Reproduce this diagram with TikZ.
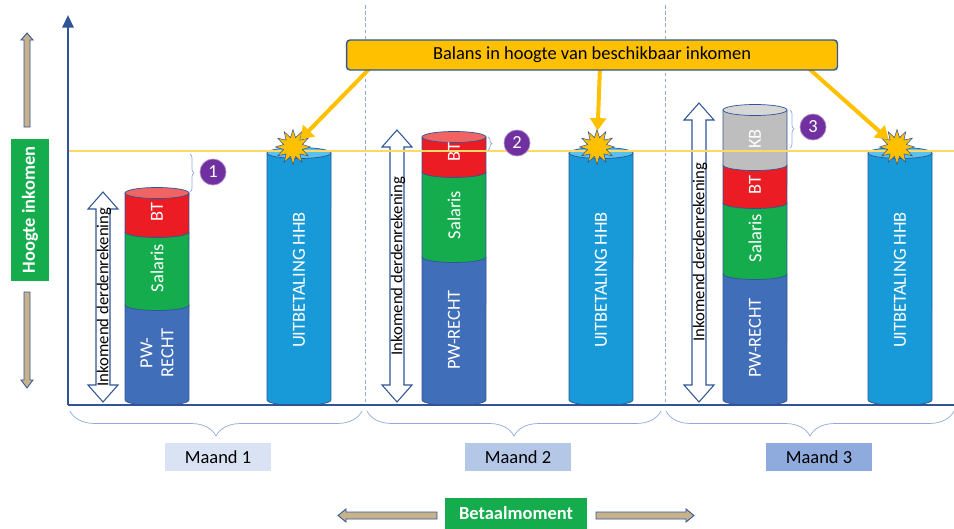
\documentclass[tikz,border=0pt]{standalone}
\usepackage{fontspec}
\setmainfont{Carlito}
\usetikzlibrary{positioning, arrows.meta, shapes.geometric, decorations.pathreplacing}
\definecolor{mynavy}{RGB}{47,85,151}
\definecolor{mypw}{RGB}{64,110,185}
\definecolor{mygreen}{RGB}{20,172,76}
\definecolor{myred}{RGB}{236,28,36}
\definecolor{myredtop}{RGB}{240,100,100}
\definecolor{mygrey}{RGB}{190,190,190}
\definecolor{mygreytop}{RGB}{215,215,215}
\definecolor{mycyan}{RGB}{24,154,216}
\definecolor{mycyantop}{RGB}{90,192,236}
\definecolor{mygold}{RGB}{255,192,0}
\definecolor{myline}{RGB}{255,217,102}
\definecolor{mypurple}{RGB}{112,48,160}
\definecolor{mybeige}{RGB}{200,178,140}
\definecolor{mymonthA}{RGB}{218,227,243}
\definecolor{mymonthB}{RGB}{180,199,231}
\definecolor{mymonthC}{RGB}{143,170,220}
\definecolor{mysep}{RGB}{143,170,220}

% cylinder part: centre x, top y, bottom y, fill
\newcommand{\cylpart}[4]{
  \filldraw[draw=mynavy, fill=#4, line width=0.4pt] (#1-32,#2) -- (#1-32,#3) arc[start angle=180, end angle=360, x radius=0.64cm, y radius=0.11cm] -- (#1+32,#2) -- cycle;
}
% cylinder lid: centre x, y, fill
\newcommand{\cyltop}[3]{
  \filldraw[draw=mynavy, fill=#3, line width=0.4pt] (#1,#2) ellipse[x radius=0.64cm, y radius=0.11cm];
}
% double arrow: centre x, top y, bottom y
\newcommand{\inkarrow}[3]{
  \draw[twoway] (#1,#2) -- ++(15,17) -- ++(-8,0) -- (#1+7,#3-17) -- ++(8,0) -- (#1,#3) -- ++(-15,-17) -- ++(8,0) -- (#1-7,#2+17) -- ++(-8,0) -- cycle;
}

\begin{document}
\begin{tikzpicture}[x=0.02cm, y=-0.02cm,
  every node/.style={font=\fontsize{10.5}{12}\selectfont},
  seglabel/.style={text=white, rotate=90, align=center},
  inklabel/.style={rotate=90, text=black, font=\fontsize{9.5}{11}\selectfont},
  monthbox/.style={minimum width=2.14cm, minimum height=0.56cm},
  greenbox/.style={fill=mygreen, text=white, font=\fontsize{10.5}{12}\selectfont\bfseries},
  numdot/.style={circle, fill=mypurple, draw=mypurple!60!white, text=white, minimum size=0.52cm, inner sep=0pt},
  smallbrace/.style={draw=mysep, decorate, decoration={brace, amplitude=0.08cm}},
  monthbrace/.style={draw=mysep, decorate, decoration={brace, mirror, amplitude=0.5cm}},
  goldarrow/.style={draw=mygold, line width=0.08cm, -{Triangle[length=0.25cm, width=0.32cm]}},
  burst/.style={star, star points=12, star point ratio=1.8, fill=mygold, draw=mynavy, line width=0.3pt, minimum size=0.7cm, inner sep=0pt},
  twoway/.style={draw=mynavy, fill=white, line width=0.6pt},
  beigearrow/.style={draw=mynavy, fill=mybeige, line width=0.5pt},
  axis/.style={draw=mynavy, line width=0.05cm}
]
\useasboundingbox (0,0) rectangle (954,528);

% month separators
\draw[mysep, dash pattern=on 2pt off 1.5pt, line width=0.5pt] (365,5) -- (365,405);
\draw[mysep, dash pattern=on 2pt off 1.5pt, line width=0.5pt] (665,5) -- (665,405);

% Maand 1
\cylpart{157}{305}{400}{mypw}
\cylpart{157}{232}{305}{mygreen}
\cylpart{157}{193}{232}{myred}
\cyltop{157}{193}{myredtop}
\node[seglabel] (pw1) at (157,353) {PW-\\RECHT};
\node[seglabel] (sal1) at (157,268) {Salaris};
\node[seglabel] (bt1) at (157,212) {BT};
\cylpart{299}{153}{400}{mycyan}
\cyltop{299}{153}{mycyantop}
\node[seglabel] (hhb1) at (299,280) {UITBETALING HHB};
\inkarrow{103}{192}{402}
\node[inklabel] (ink1) at (104,297) {Inkomend derdenrekening};

% Maand 2
\cylpart{454}{257}{400}{mypw}
\cylpart{454}{172}{257}{mygreen}
\cylpart{454}{137}{172}{myred}
\cyltop{454}{137}{myredtop}
\node[seglabel] (pw2) at (454,330) {PW-RECHT};
\node[seglabel] (sal2) at (454,215) {Salaris};
\node[seglabel] (bt2) at (454,152) {BT};
\cylpart{601}{153}{400}{mycyan}
\cyltop{601}{153}{mycyantop}
\node[seglabel] (hhb2) at (601,280) {UITBETALING HHB};
\inkarrow{397}{130}{402}
\node[inklabel] (ink2) at (398,266) {Inkomend derdenrekening};

% Maand 3
\cylpart{755}{274}{400}{mypw}
\cylpart{755}{203}{274}{mygreen}
\cylpart{755}{165}{203}{myred}
\cylpart{755}{110}{165}{mygrey}
\cyltop{755}{110}{mygreytop}
\node[seglabel] (pw3) at (755,338) {PW-RECHT};
\node[seglabel] (sal3) at (755,238) {Salaris};
\node[seglabel] (bt3) at (755,185) {BT};
\node[seglabel] (kb3) at (755,139) {KB};
\cylpart{900}{153}{400}{mycyan}
\cyltop{900}{153}{mycyantop}
\node[seglabel] (hhb3) at (900,280) {UITBETALING HHB};
\inkarrow{699}{103}{402}
\node[inklabel] (ink3) at (700,252) {Inkomend derdenrekening};

% balance line
\draw[myline, line width=0.6pt] (68,151) -- (954,151);

% gaps to the balance line
\draw[smallbrace] (190,154) -- (190,192);
\node[numdot] (n1) at (213,172) {1};
\draw[smallbrace] (488,137) -- (488,150);
\node[numdot] (n2) at (517,143) {2};
\draw[smallbrace] (790,110) -- (790,148);
\node[numdot] (n3) at (813,127) {3};

% balance callout
\node[burst] (burst1) at (293,147) {};
\node[burst] (burst2) at (597,147) {};
\node[burst] (burst3) at (897,147) {};
\coordinate (bal1) at (372,66);
\coordinate (bal2) at (600,66);
\coordinate (bal3) at (806,66);
\draw[goldarrow] (bal1) -- (burst1);
\draw[goldarrow] (bal2) -- (burst2);
\draw[goldarrow] (bal3) -- (burst3);
\node[draw=mynavy, fill=mygold, line width=0.8pt, rounded corners=2pt, minimum width=9.82cm, minimum height=0.6cm] (balans) at (592,55) {Balans in hoogte van beschikbaar inkomen};

% axes
\draw[axis, -{Triangle[length=0.25cm, width=0.22cm]}] (68,405) -- (68,15);
\draw[axis] (68,405) -- (954,405);

% months
\draw[monthbrace] (70,411) -- (362,411);
\draw[monthbrace] (367,411) -- (661,411);
\draw[monthbrace] (666,411) -- (954,411);
\node[monthbox, fill=mymonthA] (m1) at (218,457) {Maand 1};
\node[monthbox, fill=mymonthB] (m2) at (518,457) {Maand 2};
\node[monthbox, fill=mymonthC] (m3) at (819,457) {Maand 3};

% axis titles
\node[greenbox, rotate=90, minimum width=2.84cm, minimum height=0.76cm] (hoogte) at (30,210) {Hoogte inkomen};
\draw[beigearrow] (24,127) -- (24,40) -- (21,40) -- (27,33) -- (33,40) -- (30,40) -- (30,127) -- cycle;
\draw[beigearrow] (24,292) -- (24,380) -- (21,380) -- (27,388) -- (33,380) -- (30,380) -- (30,292) -- cycle;
\node[greenbox, minimum width=2.86cm, minimum height=0.62cm] (betaal) at (516,513) {Betaalmoment};
\draw[beigearrow] (437,512) -- (346,512) -- (346,509) -- (338,515.5) -- (346,522) -- (346,519) -- (437,519) -- cycle;
\draw[beigearrow] (596,512) -- (686,512) -- (686,509) -- (694,515.5) -- (686,522) -- (686,519) -- (596,519) -- cycle;
\end{tikzpicture}
\end{document}
